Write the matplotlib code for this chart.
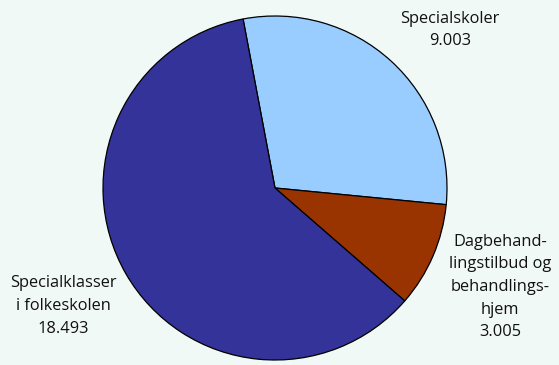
import matplotlib.pyplot as plt

labels = ["Specialskoler\n9.003",
          "Dagbehand-\nlingstilbud og\nbehandlings-\nhjem\n3.005",
          "Specialklasser\ni folkeskolen\n18.493"]
values = [9003, 3005, 18493]
colors = ["#99CCFF", "#993300", "#333399"]

bg = "#F1F9F6"
fig = plt.figure(figsize=(5.59, 3.65), dpi=100, facecolor=bg)
ax = fig.add_axes([0, 0, 1, 1])
ax.set_facecolor(bg)

# pie in pixel-like data units (y measured from bottom)
start = 100.7
ax.pie(values, colors=colors, startangle=start, counterclock=False,
       center=(275, 365 - 188), radius=172, frame=True,
       wedgeprops=dict(edgecolor="black", linewidth=0.9))
ax.set_xlim(0, 559)
ax.set_ylim(0, 365)
ax.set_aspect("auto")
ax.axis("off")

font = dict(family=["Open Sans", "DejaVu Sans"], fontsize=11.8, color="#111111",
            ha="center", va="center", linespacing=1.55)
ax.text(450, 365 - 30, labels[0], **font)
ax.text(500, 365 - 287, labels[1], **font)
ax.text(63, 365 - 306, labels[2], **font)

fig.savefig("out.png", dpi=100, facecolor=bg)
